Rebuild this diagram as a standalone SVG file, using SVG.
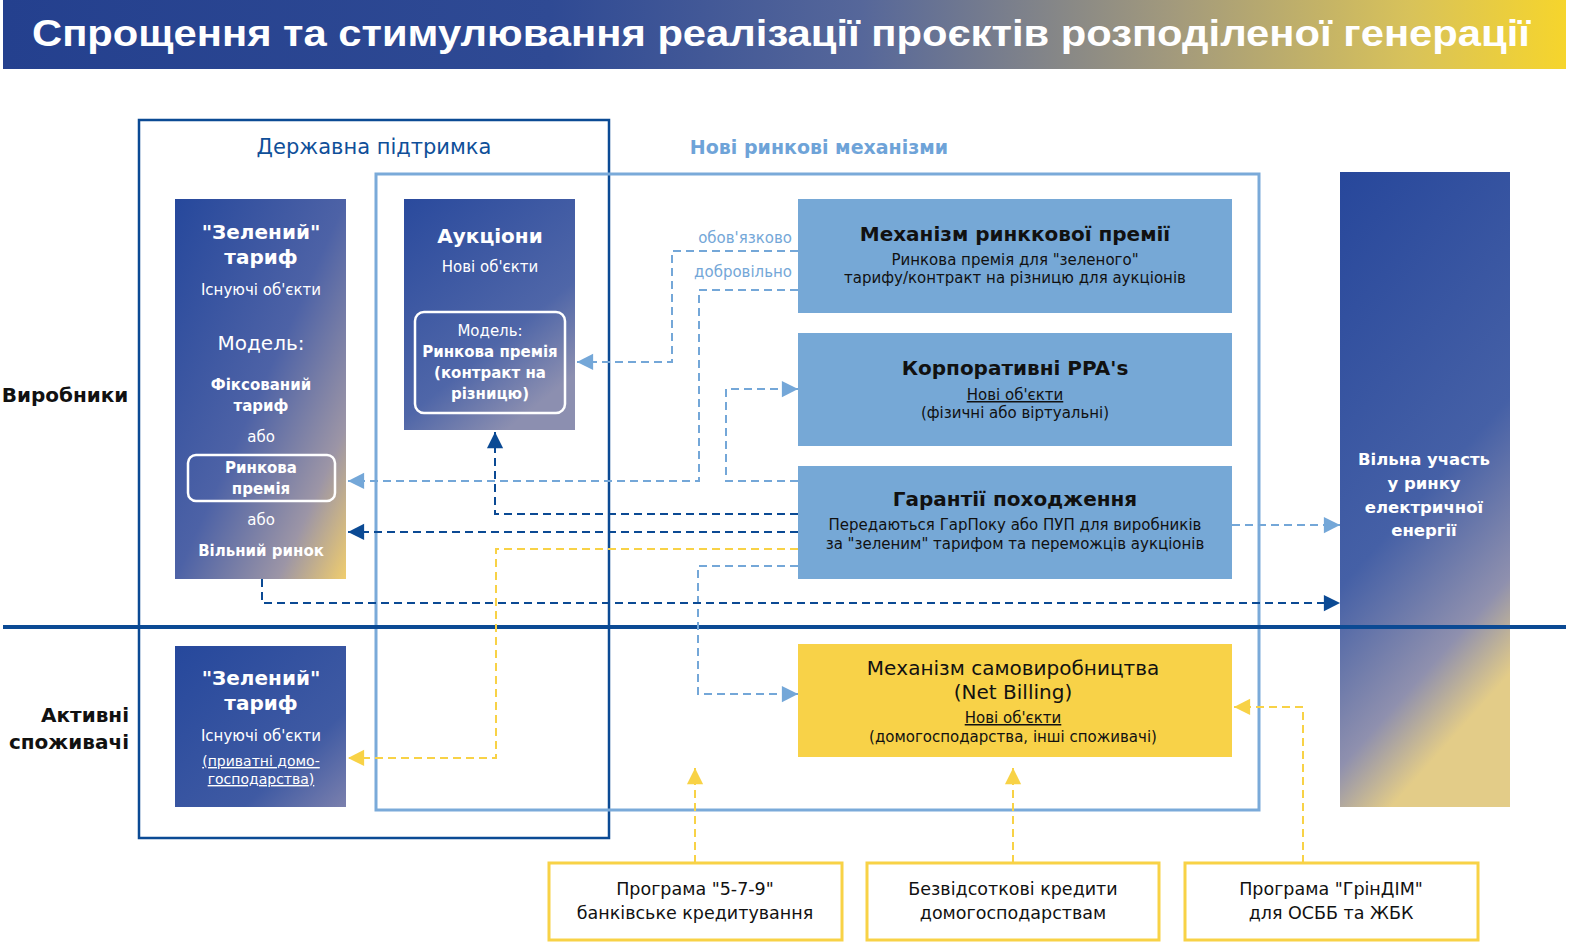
<svg xmlns="http://www.w3.org/2000/svg" width="1574" height="947" viewBox="0 0 1574 947">
<style>
text{font-family:"DejaVu Sans","Noto Sans",sans-serif;}
.w{fill:#fff;text-anchor:middle}
.k{fill:#111;text-anchor:middle}
.b{font-weight:bold}
.t22{font-size:20px}
.t16{font-size:15px}
.t18{font-size:18px}
.dl{fill:none;stroke:#74a7d8;stroke-width:2;stroke-dasharray:8 5}
.dd{fill:none;stroke:#0b4a94;stroke-width:2;stroke-dasharray:8 5}
.dy{fill:none;stroke:#f8d246;stroke-width:2;stroke-dasharray:8 5}
.bx{fill:#76a8d6}
.yb{fill:#fff;stroke:#f8d246;stroke-width:3}
</style>
<defs>
<linearGradient id="title" x1="0" y1="0" x2="1" y2="0">
<stop offset="0" stop-color="#24408e"/>
<stop offset="0.35" stop-color="#2f4a94"/>
<stop offset="0.55" stop-color="#56679a"/>
<stop offset="0.75" stop-color="#a39a7c"/>
<stop offset="0.9" stop-color="#d8c25a"/>
<stop offset="1" stop-color="#f6d52c"/>
</linearGradient>
<linearGradient id="gp" x1="0" y1="0" x2="1" y2="1">
<stop offset="0" stop-color="#26489c"/>
<stop offset="0.5" stop-color="#4d62a6"/>
<stop offset="0.8" stop-color="#9c95a6"/>
<stop offset="1" stop-color="#f0cd6e"/>
</linearGradient>
<linearGradient id="ga" x1="0" y1="0" x2="0.6" y2="1">
<stop offset="0" stop-color="#2a4a9d"/>
<stop offset="0.7" stop-color="#4f66a8"/>
<stop offset="1" stop-color="#8c8fb0"/>
</linearGradient>
<linearGradient id="gc" x1="0" y1="0" x2="1" y2="1">
<stop offset="0" stop-color="#26489c"/>
<stop offset="0.7" stop-color="#3f5aa3"/>
<stop offset="1" stop-color="#7b80ad"/>
</linearGradient>
<linearGradient id="gr" x1="0" y1="0" x2="0.3" y2="1">
<stop offset="0" stop-color="#27479b"/>
<stop offset="0.6" stop-color="#4560a6"/>
<stop offset="0.86" stop-color="#8f90ae"/>
<stop offset="1" stop-color="#e3cc88"/>
</linearGradient>
<marker id="al" viewBox="0 0 10 10" refX="10" refY="5" markerWidth="9" markerHeight="9" markerUnits="userSpaceOnUse" orient="auto" style="overflow:visible"><path d="M0,0 L10,5 L0,10 z" fill="#74a7d8" transform="scale(1.8) translate(-4.4,-2.2)"/></marker>
<marker id="ad" viewBox="0 0 10 10" refX="10" refY="5" markerWidth="9" markerHeight="9" markerUnits="userSpaceOnUse" orient="auto" style="overflow:visible"><path d="M0,0 L10,5 L0,10 z" fill="#0b4a94" transform="scale(1.8) translate(-4.4,-2.2)"/></marker>
<marker id="ay" viewBox="0 0 10 10" refX="10" refY="5" markerWidth="9" markerHeight="9" markerUnits="userSpaceOnUse" orient="auto" style="overflow:visible"><path d="M0,0 L10,5 L0,10 z" fill="#f8d246" transform="scale(1.8) translate(-4.4,-2.2)"/></marker>
</defs>
<rect width="1574" height="947" fill="#fff"/>

<g id="title-bar">
<rect x="3" y="0" width="1563" height="69" fill="url(#title)"/>
<text x="32" y="46" style="font-family:'Liberation Sans',Arial,sans-serif" font-weight="bold" font-size="36" fill="#fff" textLength="1498" lengthAdjust="spacingAndGlyphs">Спрощення та стимулювання реалізації проєктів розподіленої генерації</text>
</g>

<g id="state-support">
<rect x="139" y="120" width="470" height="718" fill="none" stroke="#0b4a94" stroke-width="2.5"/>
<text x="374" y="154" font-size="21" fill="#0f4f99" text-anchor="middle">Державна підтримка</text>
</g>

<g id="market-mechanisms">
<rect x="376" y="174" width="883" height="636" fill="none" stroke="#7aaad9" stroke-width="3"/>
<text x="819" y="154" font-size="19" font-weight="bold" fill="#6ea3d8" text-anchor="middle">Нові ринкові механізми</text>
</g>

<g id="row-labels">
<text x="65" y="402" font-size="20" font-weight="bold" fill="#111" text-anchor="middle">Виробники</text>
<text x="129" y="722" font-size="20" font-weight="bold" fill="#111" text-anchor="end">Активні</text>
<text x="129" y="749" font-size="20" font-weight="bold" fill="#111" text-anchor="end">споживачі</text>
</g>

<g id="free-market">
<rect x="1340" y="172" width="170" height="635" fill="url(#gr)"/>
<text class="w b" font-size="16.5" x="1424" y="465">Вільна участь</text>
<text class="w b" font-size="16.5" x="1424" y="489">у ринку</text>
<text class="w b" font-size="16.5" x="1424" y="513">електричної</text>
<text class="w b" font-size="16.5" x="1424" y="536">енергії</text>
</g>

<g id="separator">
<line x1="3" y1="627" x2="1566" y2="627" stroke="#0b4a94" stroke-width="4"/>
</g>

<g id="green-tariff-producers">
<rect x="175" y="199" width="171" height="380" fill="url(#gp)"/>
<text class="w b t22" x="261" y="239">"Зелений"</text>
<text class="w b t22" x="261" y="264">тариф</text>
<text class="w t16" x="261" y="295">Існуючі об'єкти</text>
<text class="w t22" x="261" y="350">Модель:</text>
<text class="w b t16" x="261" y="390">Фіксований</text>
<text class="w b t16" x="261" y="411">тариф</text>
<text class="w t16" x="261" y="442">або</text>
<rect x="188" y="455" width="147" height="46" rx="8" fill="none" stroke="#fff" stroke-width="2.5"/>
<text class="w b t16" x="261" y="473">Ринкова</text>
<text class="w b t16" x="261" y="494">премія</text>
<text class="w t16" x="261" y="525">або</text>
<text class="w b t16" x="261" y="556">Вільний ринок</text>
</g>

<g id="auctions">
<rect x="404" y="199" width="171" height="231" fill="url(#ga)"/>
<text class="w b t22" x="490" y="243">Аукціони</text>
<text class="w t16" x="490" y="272">Нові об'єкти</text>
<rect x="415" y="312" width="150" height="101" rx="9" fill="none" stroke="#fff" stroke-width="2.5"/>
<text class="w t16" x="490" y="336">Модель:</text>
<text class="w b t16" x="490" y="357">Ринкова премія</text>
<text class="w b t16" x="490" y="378">(контракт на</text>
<text class="w b t16" x="490" y="399">різницю)</text>
</g>

<g id="green-tariff-consumers">
<rect x="175" y="646" width="171" height="161" fill="url(#gc)"/>
<text class="w b t22" x="261" y="685">"Зелений"</text>
<text class="w b t22" x="261" y="710">тариф</text>
<text class="w t16" x="261" y="741">Існуючі об'єкти</text>
<text class="w" x="261" y="766" font-size="14" text-decoration="underline">(приватні домо-</text>
<text class="w" x="261" y="784" font-size="14" text-decoration="underline">господарства)</text>
</g>

<g id="market-premium">
<rect class="bx" x="798" y="199" width="434" height="114"/>
<text class="k b t22" x="1015" y="241">Механізм ринккової премії</text>
<text class="k t16" x="1015" y="265">Ринкова премія для "зеленого"</text>
<text class="k t16" x="1015" y="283">тарифу/контракт на різницю для аукціонів</text>
</g>

<g id="corporate-ppa">
<rect class="bx" x="798" y="333" width="434" height="113"/>
<text class="k b t22" x="1015" y="375">Корпоративні PPA's</text>
<text class="k t16" x="1015" y="400" text-decoration="underline">Нові об'єкти</text>
<text class="k t16" x="1015" y="418">(фізичні або віртуальні)</text>
</g>

<g id="guarantees-of-origin">
<rect class="bx" x="798" y="466" width="434" height="113"/>
<text class="k b t22" x="1015" y="506">Гарантії походження</text>
<text class="k t16" x="1015" y="530">Передаються ГарПоку або ПУП для виробників</text>
<text class="k t16" x="1015" y="549">за "зеленим" тарифом та переможців аукціонів</text>
</g>

<g id="net-billing">
<rect x="798" y="644" width="434" height="113" fill="#f8d248"/>
<text class="k t22" x="1013" y="675">Механізм самовиробництва</text>
<text class="k t22" x="1013" y="699">(Net Billing)</text>
<text class="k t16" x="1013" y="723" text-decoration="underline">Нові об'єкти</text>
<text class="k t16" x="1013" y="742">(домогосподарства, інші споживачі)</text>
</g>

<g id="program-579">
<rect class="yb" x="549" y="863" width="293" height="77"/>
<text class="k" font-size="17.5" x="695" y="895">Програма "5-7-9"</text>
<text class="k" font-size="17.5" x="695" y="919">банківське кредитування</text>
</g>
<g id="interest-free-loans">
<rect class="yb" x="867" y="863" width="292" height="77"/>
<text class="k" font-size="17.5" x="1013" y="895">Безвідсоткові кредити</text>
<text class="k" font-size="17.5" x="1013" y="919">домогосподарствам</text>
</g>
<g id="program-grindim">
<rect class="yb" x="1185" y="863" width="293" height="77"/>
<text class="k" font-size="17.5" x="1331" y="895">Програма "ГрінДІМ"</text>
<text class="k" font-size="17.5" x="1331" y="919">для ОСББ та ЖБК</text>
</g>

<g id="connectors">
<text x="792" y="243" font-size="15" fill="#74a7d8" text-anchor="end">обов'язково</text>
<text x="792" y="277" font-size="15" fill="#74a7d8" text-anchor="end">добровільно</text>
<path class="dl" d="M798,251 H672 V362 H577" marker-end="url(#al)"/>
<path class="dl" d="M798,290 H699 V481 H348" marker-end="url(#al)"/>
<path class="dl" d="M798,481 H726 V389 H798" marker-end="url(#al)"/>
<path class="dd" d="M798,514 H495 V432" marker-end="url(#ad)"/>
<path class="dd" d="M798,532 H348" marker-end="url(#ad)"/>
<path class="dy" d="M798,549 H496 V758 H348" marker-end="url(#ay)"/>
<path class="dl" d="M798,566 H698 V694 H798" marker-end="url(#al)"/>
<path class="dd" d="M262,579 V603 H1340" marker-end="url(#ad)"/>
<path class="dl" d="M1232,525 H1340" marker-end="url(#al)"/>
<path class="dy" d="M695,863 V768" marker-end="url(#ay)"/>
<path class="dy" d="M1013,863 V768" marker-end="url(#ay)"/>
<path class="dy" d="M1303,863 V707 H1234" marker-end="url(#ay)"/>
</g>
</svg>
